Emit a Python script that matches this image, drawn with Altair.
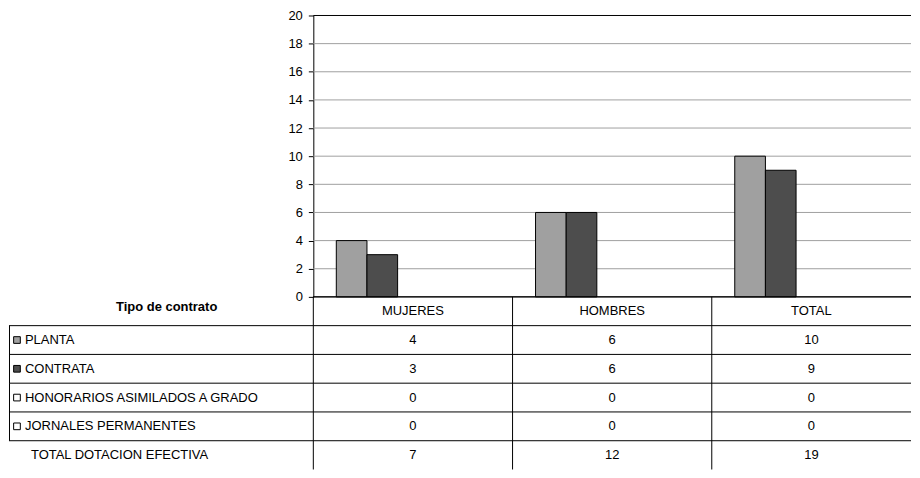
import altair as alt
import pandas as pd

# ---------------- data ----------------
categories = ["MUJERES", "HOMBRES", "TOTAL"]
series_names = [
    "PLANTA",
    "CONTRATA",
    "HONORARIOS ASIMILADOS A GRADO",
    "JORNALES PERMANENTES",
    "TOTAL DOTACION EFECTIVA",
]
planta = [4, 6, 10]
contrata = [3, 6, 9]
honorarios = [0, 0, 0]
jornales = [0, 0, 0]
total_dotacion = [7, 12, 19]
y_ticks = [0, 2, 4, 6, 8, 10, 12, 14, 16, 18, 20]
table_title = "Tipo de contrato"
plotted_series = ["PLANTA", "CONTRATA"]
keyed_series = ["PLANTA", "CONTRATA", "HONORARIOS ASIMILADOS A GRADO", "JORNALES PERMANENTES"]

# ---------------- styles ----------------
series_fills = ["#a0a0a0", "#4d4d4d", "#ffffff", "#ffffff", "#ffffff"]
FONT = "Liberation Sans"
FS = 13
GRID = "#a0a0a0"
HEADER = "__header__"

series_values = [planta, contrata, honorarios, jornales, total_dotacion]
records = []
for s, vals in zip(series_names, series_values):
    for c, v in zip(categories, vals):
        records.append({"serie": s, "cat": c, "value": v, "row": s, "txt": str(v)})
df = pd.DataFrame(records)

table_records = list(records) + [
    {"serie": "", "cat": c, "value": 0, "row": HEADER, "txt": c} for c in categories
]
table_df = pd.DataFrame(table_records)
rows_df = pd.DataFrame({"row": series_names})
all_rows_df = pd.DataFrame({"row": [HEADER] + series_names})
cats_df = pd.DataFrame({"cat": categories})
ticks_df = pd.DataFrame({"value": y_ticks})
row_domain = [HEADER] + series_names

PLOT_W = 599
PLOT_H = 282
LABEL_W = 305
TABLE_H = 173

x_scale = alt.Scale(domain=categories, paddingInner=0, paddingOuter=0)
row_scale = alt.Scale(domain=row_domain, paddingInner=0, paddingOuter=0)
fill_scale = alt.Scale(domain=series_names, range=series_fills)
val_scale = alt.Scale(domain=[0, 20], nice=False)

y_axis = alt.Axis(
    values=y_ticks,
    title=None,
    grid=False,
    domainColor="black",
    domainWidth=1,
    tickColor="black",
    tickSize=5,
    labelFont=FONT,
    labelFontSize=FS,
    labelColor="black",
    labelPadding=6,
)

# ---------------- bar chart ----------------
grid_rules = (
    alt.Chart(ticks_df)
    .mark_rule(strokeWidth=1)
    .encode(
        y=alt.Y("value:Q", scale=val_scale, axis=y_axis),
        x=alt.value(0),
        x2=alt.value(PLOT_W),
        color=alt.condition(
            "datum.value == 20 || datum.value == 0", alt.value("black"), alt.value(GRID)
        ),
    )
)

bars = (
    alt.Chart(df)
    .transform_filter(alt.FieldOneOfPredicate(field="serie", oneOf=plotted_series))
    .mark_bar(stroke="black", strokeWidth=1)
    .encode(
        x=alt.X("cat:N", scale=x_scale, axis=None),
        xOffset=alt.XOffset(
            "serie:N",
            scale=alt.Scale(domain=series_names, paddingInner=0, paddingOuter=0.75),
        ),
        y=alt.Y("value:Q", scale=val_scale, axis=y_axis),
        fill=alt.Fill("serie:N", scale=fill_scale, legend=None),
    )
)

bar_chart = alt.layer(grid_rules, bars).properties(width=PLOT_W, height=PLOT_H)

spacer = (
    alt.Chart(pd.DataFrame({"v": [0]}))
    .mark_rule(opacity=0)
    .encode(x=alt.value(1), y=alt.value(1), y2=alt.value(2))
    .properties(width=LABEL_W, height=PLOT_H)
)

# ---------------- label column of the data table ----------------
ylab = alt.Y("row:N", scale=row_scale, axis=None)

hlines = (
    alt.Chart(rows_df)
    .mark_rule(color="black", strokeWidth=1)
    .encode(
        y=alt.Y("row:N", scale=row_scale, axis=None, bandPosition=0),
        x=alt.value(0),
        x2=alt.value(LABEL_W),
    )
)

left_border = (
    alt.Chart(rows_df)
    .transform_filter(alt.FieldOneOfPredicate(field="row", oneOf=keyed_series))
    .mark_rect(color="black")
    .encode(y=ylab, x=alt.value(0), x2=alt.value(1))
)

keys = (
    alt.Chart(rows_df)
    .transform_filter(alt.FieldOneOfPredicate(field="row", oneOf=keyed_series))
    .mark_square(size=45, stroke="black", strokeWidth=1, opacity=1)
    .encode(
        y=ylab,
        x=alt.value(8),
        fill=alt.Fill("row:N", scale=fill_scale, legend=None),
    )
)

key_labels = (
    alt.Chart(rows_df)
    .transform_filter(alt.FieldOneOfPredicate(field="row", oneOf=keyed_series))
    .mark_text(align="left", baseline="middle", font=FONT, fontSize=FS, color="black")
    .encode(y=ylab, x=alt.value(16), text="row:N")
)

total_label = (
    alt.Chart(rows_df)
    .transform_filter(alt.FieldEqualPredicate(field="row", equal="TOTAL DOTACION EFECTIVA"))
    .mark_text(align="left", baseline="middle", font=FONT, fontSize=FS, color="black")
    .encode(y=ylab, x=alt.value(22), text="row:N")
)

title_df = pd.DataFrame({"row": [HEADER], "txt": [table_title]})
title_text = (
    alt.Chart(title_df)
    .mark_text(align="center", baseline="middle", font=FONT, fontSize=FS,
               fontWeight="bold", color="black", dy=-4)
    .encode(y=ylab, x=alt.value(158), text="txt:N")
)

labels_panel = alt.layer(
    hlines, left_border, keys, key_labels, total_label, title_text
).properties(width=LABEL_W, height=TABLE_H)

# ---------------- value cells of the data table ----------------
xcat = alt.X("cat:N", scale=x_scale, axis=None)
yrow = alt.Y("row:N", scale=row_scale, axis=None)

row_lines = (
    alt.Chart(all_rows_df)
    .mark_rule(color="black", strokeWidth=1)
    .encode(
        y=alt.Y("row:N", scale=row_scale, axis=None, bandPosition=0),
        x=alt.value(0),
        x2=alt.value(PLOT_W),
    )
)

col_lines = (
    alt.Chart(cats_df)
    .mark_rule(color="black", strokeWidth=1)
    .encode(
        x=alt.X("cat:N", scale=x_scale, axis=None, bandPosition=0),
        y=alt.value(0),
        y2=alt.value(TABLE_H),
    )
)

cell_text = (
    alt.Chart(table_df)
    .mark_text(align="center", baseline="middle", font=FONT, fontSize=FS, color="black")
    .encode(x=xcat, y=yrow, text="txt:N")
)

values_panel = alt.layer(row_lines, col_lines, cell_text).properties(
    width=PLOT_W, height=TABLE_H
)

chart = (
    alt.concat(spacer, bar_chart, labels_panel, values_panel, columns=2, spacing=0, bounds="flush")
    .properties(padding={"left": 0, "top": 0, "right": 0, "bottom": 0}, background="white")
    .configure_view(stroke="transparent")
)

chart.save("out.html", embed_options={"renderer": "svg", "actions": False})
